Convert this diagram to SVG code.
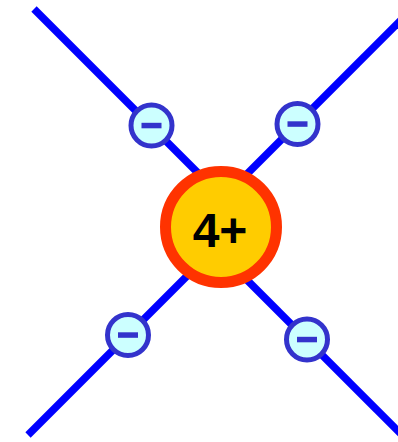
<svg xmlns="http://www.w3.org/2000/svg" width="398" height="442" viewBox="0 0 398 442">
  <style>
    .bond { stroke: #0000ff; stroke-width: 7.5; fill: none; }
    .anion circle { fill: #ccffff; stroke: #3333cc; stroke-width: 5; }
    .anion rect { fill: #3333cc; }
    .cation circle { fill: #ffcc00; stroke: #ff3300; stroke-width: 11; }
    .cation text { font-family: "Liberation Sans", Arial, sans-serif; font-weight: bold; font-size: 48px; fill: #000000; text-anchor: middle; }
  </style>
  <rect width="398" height="442" fill="#ffffff"/>
  <g id="connectors">
    <line class="bond" x1="34" y1="9" x2="223" y2="198"/>
    <line class="bond" x1="402" y1="19" x2="223" y2="198"/>
    <line class="bond" x1="28" y1="435" x2="215" y2="248"/>
    <line class="bond" x1="402" y1="435" x2="215" y2="248"/>
  </g>
  <g id="anion-top-left" class="anion">
    <circle cx="151.5" cy="125.5" r="20.5"/>
    <rect x="141.5" y="122.8" width="20" height="5.5"/>
  </g>
  <g id="anion-top-right" class="anion">
    <circle cx="297.5" cy="124" r="20.5"/>
    <rect x="287.5" y="121.3" width="20" height="5.5"/>
  </g>
  <g id="anion-bottom-left" class="anion">
    <circle cx="128" cy="335" r="20.5"/>
    <rect x="118" y="332.3" width="20" height="5.5"/>
  </g>
  <g id="anion-bottom-right" class="anion">
    <circle cx="307" cy="339.5" r="20.5"/>
    <rect x="297" y="336.8" width="20" height="5.5"/>
  </g>
  <g id="cation" class="cation">
    <circle cx="221" cy="227" r="55.5"/>
    <text x="220" y="247">4+</text>
  </g>
</svg>
